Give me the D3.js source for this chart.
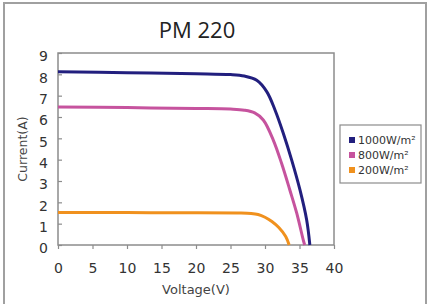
<!DOCTYPE html>
<html>
<head>
<meta charset="utf-8">
<script src="https://cdn.jsdelivr.net/npm/d3@7"></script>
<style>
  html, body { margin: 0; padding: 0; background: #fff; }
  svg { display: block; }
</style>
</head>
<body>
<script>
// I-V curves
const volt1000 = [0, 10, 20, 25, 27, 28.8, 30.25, 31.45, 32.65, 33.87, 35.07, 36.04, 36.5];
const curr1000 = [8.12, 8.08, 8.03, 7.99, 7.92, 7.72, 7.19, 6.33, 5.24, 3.98, 2.58, 1.17, 0];

const volt800 = [0, 10, 20, 25, 27, 28.5, 29.75, 31.2, 32.4, 33.6, 34.6, 35.55, 35.75];
const curr800 = [6.47, 6.44, 6.4, 6.37, 6.32, 6.19, 5.86, 4.92, 3.83, 2.58, 1.49, 0.23, 0];

const volt200 = [0, 10, 20, 26, 28, 29, 30, 31, 32, 33, 33.5];
const curr200 = [1.52, 1.52, 1.51, 1.5, 1.48, 1.43, 1.3, 1.1, 0.82, 0.4, 0];

const seriesNames = ["1000W/m\u00B2", "800W/m\u00B2", "200W/m\u00B2"];
const seriesColors = ["#221f7e", "#c6539e", "#f0911e"];

const xTicks = [0, 5, 10, 15, 20, 25, 30, 35, 40];
const yTicks = [0, 1, 2, 3, 4, 5, 6, 7, 8, 9];

const width = 427;
const height = 304;

const svg = d3
  .select("body")
  .append("svg")
  .attr("width", width)
  .attr("height", height);

// outer frame
svg
  .append("rect")
  .attr("x", 4)
  .attr("y", 3)
  .attr("width", 422)
  .attr("height", 330)
  .attr("fill", "none")
  .attr("stroke", "#a0a0a0")
  .attr("stroke-width", 2);

const xScale = d3.scaleLinear().domain([0, 40]).range([58, 334]);
const yScale = d3.scaleLinear().domain([0, 9]).range([245, 53]);

// title
svg
  .append("text")
  .attr("x", 197)
  .attr("y", 38)
  .attr("text-anchor", "middle")
  .style("font-family", "'Open Sans', sans-serif")
  .style("font-size", "22px")
  .attr("fill", "#222")
  .text("PM 220");

// plot border
svg
  .append("rect")
  .attr("x", xScale(0))
  .attr("y", yScale(9))
  .attr("width", xScale(40) - xScale(0))
  .attr("height", yScale(0) - yScale(9))
  .attr("fill", "none")
  .attr("stroke", "#8c8c8c")
  .attr("stroke-width", 1.5);

const xAxis = d3
  .axisBottom(xScale)
  .tickValues(xTicks)
  .tickSizeInner(4)
  .tickSizeOuter(0)
  .tickPadding(14);

const gx = svg
  .append("g")
  .attr("transform", `translate(0, ${yScale(0)})`)
  .call(xAxis);

const yAxis = d3
  .axisLeft(yScale)
  .tickValues(yTicks)
  .tickSizeInner(-4)
  .tickSizeOuter(0)
  .tickPadding(10);

const gy = svg
  .append("g")
  .attr("transform", `translate(${xScale(0)}, 0)`)
  .call(yAxis);

[gx, gy].forEach((g) => {
  g.select(".domain").remove();
  g.selectAll(".tick line").attr("stroke", "#8c8c8c").attr("stroke-width", 1.2);
  g.selectAll(".tick text")
    .attr("fill", "#333")
    .style("font-family", "'DejaVu Sans', sans-serif")
    .style("font-size", "14px");
});
gy.selectAll(".tick text").attr("dy", "0.55em");

// axis titles
svg
  .append("text")
  .attr("transform", "translate(27, 149) rotate(-90)")
  .attr("text-anchor", "middle")
  .style("font-family", "'DejaVu Sans', sans-serif")
  .style("font-size", "12.5px")
  .attr("fill", "#444")
  .text("Current(A)");

svg
  .append("text")
  .attr("x", 196)
  .attr("y", 294)
  .attr("text-anchor", "middle")
  .style("font-family", "'DejaVu Sans', sans-serif")
  .style("font-size", "13px")
  .attr("fill", "#444")
  .text("Voltage(V)");

// curves
const series = [
  { v: volt1000, i: curr1000 },
  { v: volt800, i: curr800 },
  { v: volt200, i: curr200 },
];

const line = d3
  .line()
  .x((d) => xScale(d[0]))
  .y((d) => yScale(d[1]))
  .curve(d3.curveCatmullRom.alpha(0.5));

series.forEach((s, k) => {
  svg
    .append("path")
    .datum(d3.zip(s.v, s.i))
    .attr("d", line)
    .attr("fill", "none")
    .attr("stroke", seriesColors[k])
    .attr("stroke-width", 3);
});

// legend
const legend = svg.append("g").attr("transform", "translate(340, 125)");

legend
  .append("rect")
  .attr("width", 81)
  .attr("height", 58)
  .attr("fill", "#fff")
  .attr("stroke", "#8c8c8c")
  .attr("stroke-width", 1.2);

seriesNames.forEach((name, k) => {
  const row = legend.append("g").attr("transform", `translate(0, ${15 + k * 15})`);
  row
    .append("rect")
    .attr("x", 9)
    .attr("y", -3)
    .attr("width", 6)
    .attr("height", 6)
    .attr("fill", seriesColors[k]);
  row
    .append("text")
    .attr("x", 18)
    .attr("y", 4)
    .style("font-family", "'DejaVu Sans', sans-serif")
    .style("font-size", "11px")
    .attr("fill", "#333")
    .text(name);
});
</script>
</body>
</html>
